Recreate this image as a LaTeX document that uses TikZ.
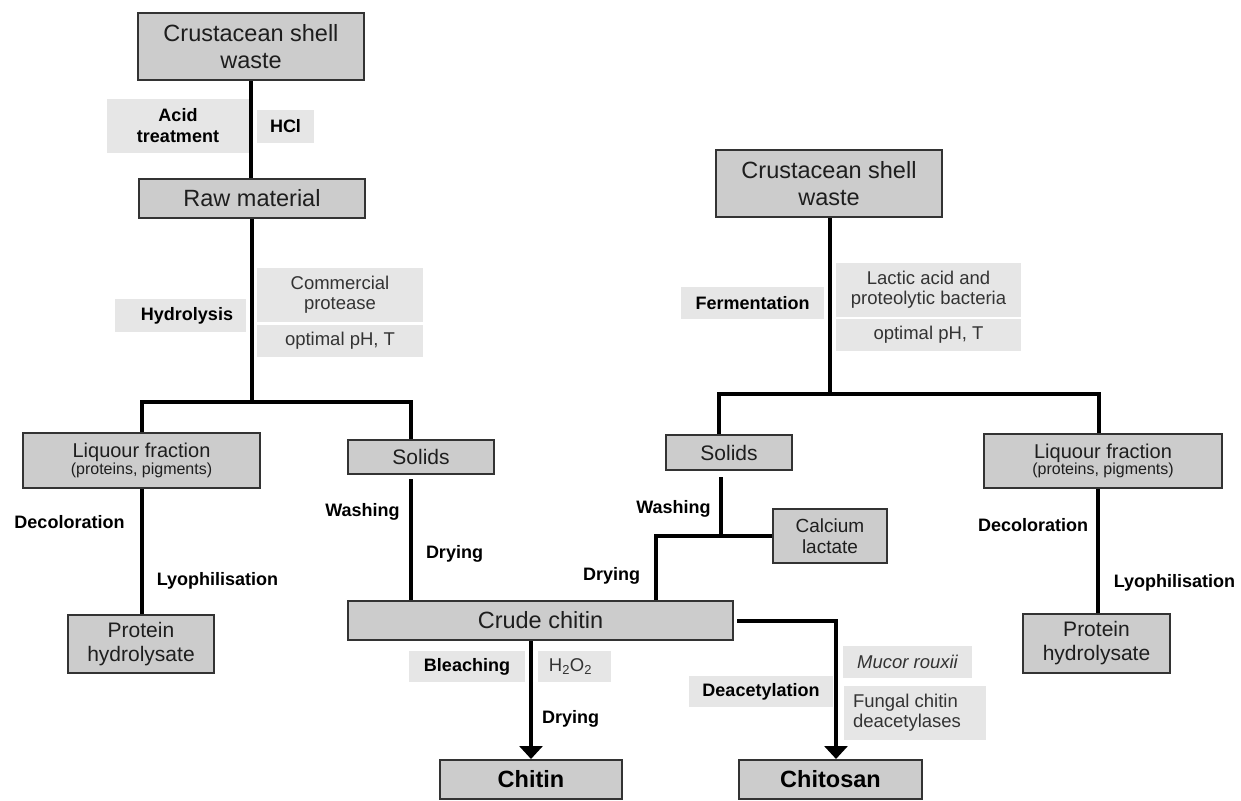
\documentclass[tikz,border=0pt]{standalone}
\usepackage{fontspec}
\setmainfont{Liberation Sans}
\usetikzlibrary{arrows.meta}
\definecolor{boxfill}{HTML}{CCCCCC}
\definecolor{boxline}{HTML}{333333}
\definecolor{lblfill}{HTML}{E6E6E6}
\definecolor{txt}{HTML}{1E1E1E}
\definecolor{ltxt}{HTML}{333333}
\begin{document}
\begin{tikzpicture}[x=1pt,y=-1pt,
  box/.style={draw=boxline, fill=boxfill, line width=2pt, inner sep=0pt, align=center, text=txt},
  big/.style={font=\fontsize{23.5}{27}\selectfont},
  mid/.style={font=\fontsize{21}{24}\selectfont},
  bigb/.style={font=\fontsize{23.5}{27}\selectfont\bfseries, text=black},
  lbox/.style={fill=lblfill, inner sep=0pt, align=center},
  bl/.style={font=\fontsize{18}{21}\selectfont\bfseries, text=black, inner sep=0pt},
  rg/.style={font=\fontsize{18.5}{20}\selectfont, text=ltxt},
  conn/.style={line width=4pt, black},
  arr/.style={conn, -{Triangle[width=23pt,length=13pt]}}
]
\fill[white] (0,0) rectangle (1241,800);
\useasboundingbox (0,0) rectangle (1241,800);

% ---- main boxes ----
\node[box, big, minimum width=226pt, minimum height=67pt] (csw1) at (251,46.5) {Crustacean shell\\waste};
\node[box, big, minimum width=226pt, minimum height=39pt] (raw) at (252,198.5) {Raw material};
\node[box, minimum width=237pt, minimum height=55pt] (liq1) at (141.5,460.5)
  {\fontsize{20}{22}\selectfont Liquour fraction\\{\fontsize{16}{18}\selectfont (proteins, pigments)}};
\node[box, mid, minimum width=146pt, minimum height=34pt] (sol1) at (421,457) {Solids};
\node[box, mid, minimum width=146pt, minimum height=58pt] (prot1) at (141,644) {Protein\\hydrolysate};
\node[box, big, minimum width=385pt, minimum height=39pt] (crude) at (540.5,620.5) {Crude chitin};
\node[box, bigb, minimum width=182pt, minimum height=39pt] (chitin) at (531,779.5) {Chitin};
\node[box, bigb, minimum width=183pt, minimum height=39pt] (chitosan) at (830.5,779.5) {Chitosan};
\node[box, big, minimum width=226pt, minimum height=67pt] (csw2) at (829,183.5) {Crustacean shell\\waste};
\node[box, mid, minimum width=126pt, minimum height=35pt] (sol2) at (729,452.5) {Solids};
\node[box, minimum width=238pt, minimum height=54pt] (liq2) at (1103,461)
  {\fontsize{20}{22}\selectfont Liquour fraction\\{\fontsize{16}{18}\selectfont (proteins, pigments)}};
\node[box, font=\fontsize{19}{21}\selectfont, minimum width=114pt, minimum height=54pt] (calc) at (830,536) {Calcium\\lactate};
\node[box, mid, minimum width=147pt, minimum height=59pt] (prot2) at (1096.5,643.5) {Protein\\hydrolysate};

% ---- shaded label boxes ----
\node[lbox, bl, minimum width=142pt, minimum height=54pt] (acid) at (178,126) {Acid\\treatment};
\node[lbox, bl, minimum width=57pt, minimum height=33pt] (hcl) at (285.5,126.5) {HCl};
\node[lbox, bl, minimum width=131pt, minimum height=33pt] (hydro) at (180.5,315.5) {\hspace*{13pt}Hydrolysis};
\node[lbox, rg, minimum width=166pt, minimum height=54pt] (comm) at (340,295) {Commercial\\protease};
\node[lbox, rg, minimum width=166pt, minimum height=32pt] (opt1) at (340,341) {optimal pH, T};
\node[lbox, bl, minimum width=143pt, minimum height=32pt] (ferm) at (752.5,303) {Fermentation};
\node[lbox, rg, minimum width=185pt, minimum height=54pt] (lactic) at (928.5,290) {Lactic acid and\\proteolytic bacteria};
\node[lbox, rg, minimum width=185pt, minimum height=32pt] (opt2) at (928.5,335) {optimal pH, T};
\node[lbox, bl, minimum width=116pt, minimum height=31pt] (bleach) at (467,666.5) {Bleaching};
\node[lbox, rg, minimum width=73pt, minimum height=31pt] (h2o2) at (574.5,666.5) {H\textsubscript{2}O\textsubscript{2}\hspace*{8pt}};
\node[lbox, bl, minimum width=144pt, minimum height=31pt] (deac) at (761,691.5) {Deacetylation};
\node[lbox, rg, minimum width=129pt, minimum height=32pt] (mucor) at (907.5,662) {\itshape Mucor rouxii};
\node[lbox, rg, minimum width=142pt, minimum height=54pt, align=left] (fung) at (915,713) {Fungal chitin\hspace*{16pt}\\deacetylases\hspace*{16pt}};

% ---- plain labels ----
\node[bl] (decol1) at (69.5,522) {Decoloration};
\node[bl] (lyo1) at (217.5,581) {Lyophilisation};
\node[bl] (wash1) at (362.5,512) {Washing};
\node[bl] (dry1) at (454.5,554) {Drying};
\node[bl] (dry2) at (611.5,576) {Drying};
\node[bl] (wash2) at (673.5,509) {Washing};
\node[bl] (dry3) at (570.5,719) {Drying};
\node[bl] (decol2) at (1033,525) {Decoloration};
\node[bl] (lyo2) at (1174.5,583) {Lyophilisation};

% ---- junction coordinates ----
\coordinate (j1) at (252,402);
\coordinate (s1n) at (411,439);
\coordinate (s1s) at (411,479);
\coordinate (k1) at (836,621);
\coordinate (kc) at (737,621);
\coordinate (j2) at (830,394);
\coordinate (s2n) at (719,434);
\coordinate (l2n) at (1099,433);
\coordinate (s2s) at (721,477);
\coordinate (j3) at (721,536);
\coordinate (c2) at (656,600);
\coordinate (l2x) at (1098,0);

% ---- connectors (left process) ----
\draw[conn] (csw1.south) -- (csw1.south |- raw.north);
\draw[conn] (raw.south) -- (j1);
\draw[conn] (liq1.north) |- (j1);
\draw[conn] (j1) -| (s1n);
\draw[conn] (liq1.south) -- (liq1.south |- prot1.north);
\draw[conn] (s1s) -- (s1s |- crude.north);
\draw[arr] (chitin.north |- crude.south) -- (chitin.north);
\draw[arr] (kc) -- (k1) -- (k1 |- chitosan.north);

% ---- connectors (right process) ----
\draw[conn] (csw2.south -| j2) -- (j2);
\draw[conn] (s2n) |- (j2);
\draw[conn] (j2) -| (l2n);
\draw[conn] (s2s) |- (calc.west);
\draw[conn] (j3) -| (c2);
\draw[conn] (liq2.south -| l2x) -- (prot2.north -| l2x);
\end{tikzpicture}
\end{document}
